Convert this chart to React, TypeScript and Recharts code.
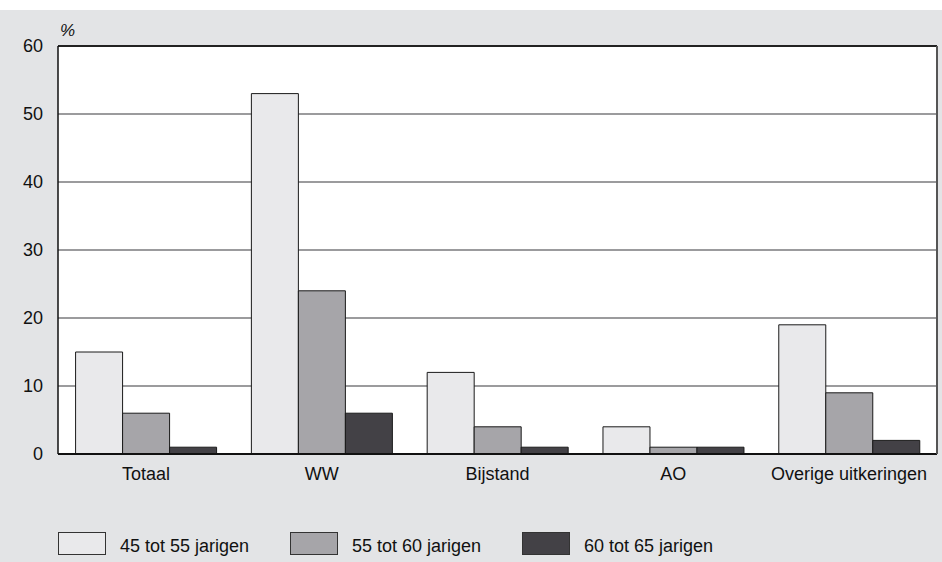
import { BarChart, Bar, XAxis, YAxis, CartesianGrid, ReferenceLine } from 'recharts'

const categories = ['Totaal', 'WW', 'Bijstand', 'AO', 'Overige uitkeringen']
const age45to55 = [15, 53, 12, 4, 19]
const age55to60 = [6, 24, 4, 1, 9]
const age60to65 = [1, 6, 1, 1, 2]
const yTicks = [0, 10, 20, 30, 40, 50, 60]

const series = [
  { key: 'a', name: '45 tot 55 jarigen', color: '#e9e9eb' },
  { key: 'b', name: '55 tot 60 jarigen', color: '#a6a5a9' },
  { key: 'c', name: '60 tot 65 jarigen', color: '#434146' },
]

const data = categories.map((cat, i) => ({
  cat,
  a: age45to55[i],
  b: age55to60[i],
  c: age60to65[i],
}))

const font = '"Liberation Sans", Arial, Helvetica, sans-serif'

export default function App() {
  return (
    <div style={{ position: 'absolute', left: 0, top: 0, width: 942, height: 562, background: '#fff', fontFamily: font }}>
      <div style={{ position: 'absolute', left: 0, top: 10, width: 942, height: 552, background: '#e3e4e6' }}>
        <BarChart
          width={942}
          height={552}
          data={data}
          margin={{ top: 36, right: 0, left: 0, bottom: 0 }}
          barCategoryGap="10%"
          barGap={0}
        >
          <CartesianGrid yAxisId="left" vertical={false} stroke="#7a7a7c" strokeWidth={1.5} fill="#fff" />
          <XAxis
            dataKey="cat"
            height={108}
            tickLine={false}
            tickSize={0}
            tickMargin={13}
            axisLine={{ stroke: '#111', strokeWidth: 2 }}
            tick={{ fill: '#111', fontSize: 18, fontFamily: font }}
          />
          <YAxis
            yAxisId="left"
            width={58}
            domain={[0, 60]}
            ticks={yTicks}
            interval={0}
            tickLine={false}
            tickSize={0}
            tickMargin={15}
            axisLine={{ stroke: '#111', strokeWidth: 1.5 }}
            tick={{ fill: '#111', fontSize: 18, fontFamily: font }}
          />
          <YAxis
            yAxisId="right"
            orientation="right"
            width={5}
            domain={[0, 60]}
            tick={false}
            tickLine={false}
            axisLine={{ stroke: '#555', strokeWidth: 2 }}
          />
          <ReferenceLine yAxisId="left" y={60} stroke="#222" strokeWidth={2} />
          {series.map((s) => (
            <Bar
              key={s.key}
              yAxisId="left"
              dataKey={s.key}
              name={s.name}
              fill={s.color}
              stroke="#1a1a1a"
              strokeWidth={1}
              isAnimationActive={false}
            />
          ))}
        </BarChart>
        <div style={{ position: 'absolute', left: 60, top: 11, fontSize: 17, fontStyle: 'italic', color: '#111' }}>%</div>
        {series.map((s, i) => (
          <div key={s.key} style={{ position: 'absolute', left: 58 + i * 232, top: 522, display: 'flex', alignItems: 'flex-end' }}>
            <div style={{ width: 46, height: 21, background: s.color, border: '1px solid #333' }} />
            <span style={{ marginLeft: 14, fontSize: 18, color: '#111', lineHeight: '18px' }}>{s.name}</span>
          </div>
        ))}
      </div>
    </div>
  )
}
